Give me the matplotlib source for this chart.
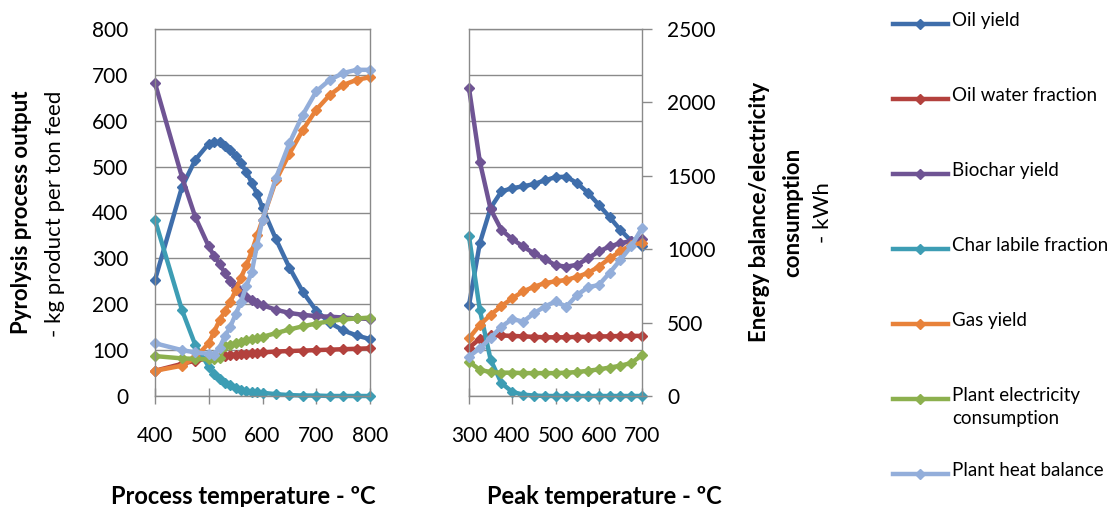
import matplotlib
matplotlib.use("Agg")
import matplotlib.pyplot as plt
from matplotlib.lines import Line2D

plt.rcParams["font.family"] = ["Lato", "DejaVu Sans"]

# --------------------------
# Data
# --------------------------
process_temp = [400, 450, 475, 500, 510, 520, 530, 540, 550, 560, 570,
                580, 590, 600, 625, 650, 675, 700, 725, 750, 775, 800]
oil_yield_p = [253, 455, 515, 550, 554, 553, 546, 536, 524, 508, 488,
               465, 440, 410, 342, 280, 227, 186, 160, 143, 132, 124]
oil_water_p = [55, 70, 77, 82, 84, 86, 88, 89, 90, 91, 92,
               93, 94, 95, 97, 98, 99, 100, 101, 102, 103, 104]
biochar_p = [682, 478, 390, 326, 305, 288, 268, 250, 237, 225, 216,
             209, 203, 198, 188, 181, 177, 174, 173, 171, 169, 168]
char_labile_p = [384, 188, 111, 64, 48, 36, 29, 23, 18, 14, 11,
                 9, 8, 7, 4, 2, 1, 1, 0, 0, 0, 0]
gas_yield_p = [55, 66, 84, 115, 140, 165, 185, 205, 230, 258, 285,
               315, 350, 384, 470, 528, 580, 624, 656, 678, 689, 695]
electricity_p = [87, 82, 81, 80, 81, 83, 110, 112, 115, 118, 121,
                 124, 127, 129, 137, 145, 152, 158, 163, 167, 169, 171]
heat_balance_p = [115, 100, 95, 92, 89, 105, 130, 151, 178, 205, 240,
                  270, 330, 384, 475, 551, 613, 664, 689, 704, 711, 711]

peak_temp = [300, 325, 350, 375, 400, 425, 450, 475, 500, 525, 550,
             575, 600, 625, 650, 675, 700]
oil_yield_k = [198, 333, 410, 446, 453, 457, 462, 470, 477, 478, 464,
               443, 417, 390, 362, 338, 326]
oil_water_k = [105, 125, 132, 132, 131, 130, 129, 128, 128, 128, 129,
               129, 130, 130, 131, 131, 131]
biochar_k = [671, 511, 407, 362, 342, 326, 311, 299, 285, 282, 286,
             300, 315, 326, 333, 338, 342]
char_labile_k = [348, 188, 79, 28, 9, 3, 1, 0, 0, 0, 0,
                 0, 0, 0, 0, 0, 0]
gas_yield_k = [126, 155, 177, 196, 213, 228, 238, 246, 250, 253, 260,
               268, 282, 300, 315, 330, 333]
# energy series in kWh (secondary axis)
electricity_k = [234, 178, 163, 159, 159, 156, 156, 156, 156, 159, 163,
                 172, 181, 194, 206, 225, 278]
heat_balance_k = [269, 325, 397, 472, 525, 506, 563, 609, 644, 609, 688,
                  741, 756, 838, 928, 1019, 1144]

labels = ["Oil yield", "Oil water fraction", "Biochar yield",
          "Char labile fraction", "Gas yield",
          "Plant electricity\nconsumption", "Plant heat balance"]
colors = ["#3F6EAB", "#B3413D", "#6F5494", "#3D9DB4",
          "#E8823A", "#8CB04E", "#93AEDA"]

W, H = 1117, 507
GRID = "#8A8A8A"
TICK_FS = 15
TITLE_FS = 16
LW = 3.2
MS = 5


def fx(px):
    return px / W


def fy(py):
    return 1 - py / H


def style_panel(ax, xlim, xticks):
    ax.set_xlim(*xlim)
    ax.set_ylim(0, 800)
    ax.set_xticks(xticks)
    ax.set_yticks(range(0, 801, 100))
    ax.grid(axis="y", color=GRID, linewidth=1.0)
    ax.set_axisbelow(True)
    for s in ax.spines.values():
        s.set_color(GRID)
        s.set_linewidth(1.0)
    ax.tick_params(axis="x", direction="inout", length=11, width=1,
                   color=GRID, pad=16, labelsize=TICK_FS)
    ax.tick_params(axis="y", length=0, labelsize=TICK_FS)


fig = plt.figure(figsize=(W / 100, H / 100), dpi=100)

# --------------------------
# Left panel: process temperature
# --------------------------
axL = fig.add_axes([fx(155), fy(396), fx(370) - fx(155), fy(29) - fy(396)])
style_panel(axL, (400, 800), [400, 500, 600, 700, 800])
axL.tick_params(axis="y", pad=19)

left_series = [oil_yield_p, oil_water_p, biochar_p, char_labile_p,
               gas_yield_p, electricity_p, heat_balance_p]
for ys, c in zip(left_series, colors):
    axL.plot(process_temp, ys, color=c, lw=LW, marker="D", ms=MS,
             clip_on=False)

# --------------------------
# Right panel: peak temperature
# --------------------------
axR = fig.add_axes([fx(469), fy(396), fx(642) - fx(469), fy(29) - fy(396)])
style_panel(axR, (300, 700), [300, 400, 500, 600, 700])
axR.tick_params(axis="y", labelleft=False)

axR2 = axR.twinx()
axR2.set_ylim(0, 2500)
axR2.set_yticks(range(0, 2501, 500))
axR2.tick_params(axis="y", direction="out", length=7, width=1, color=GRID,
                 pad=11, labelsize=TICK_FS)
for s in axR2.spines.values():
    s.set_visible(False)

mass_series = [oil_yield_k, oil_water_k, biochar_k, char_labile_k, gas_yield_k]
for ys, c in zip(mass_series, colors[:5]):
    axR.plot(peak_temp, ys, color=c, lw=LW, marker="D", ms=MS, clip_on=False)
axR2.plot(peak_temp, electricity_k, color=colors[5], lw=LW, marker="D",
          ms=MS, clip_on=False)
axR2.plot(peak_temp, heat_balance_k, color=colors[6], lw=LW, marker="D",
          ms=MS, clip_on=False)

# --------------------------
# Axis titles
# --------------------------
fig.text(fx(22), fy(212), "Pyrolysis process output", rotation=90,
         ha="center", va="center", fontsize=TITLE_FS, fontweight="bold")
fig.text(fx(55), fy(214), "- kg product per ton feed", rotation=90,
         ha="center", va="center", fontsize=TITLE_FS)
fig.text(fx(760), fy(212), "Energy balance/electricity", rotation=90,
         ha="center", va="center", fontsize=TITLE_FS, fontweight="bold")
fig.text(fx(793), fy(212), "consumption", rotation=90,
         ha="center", va="center", fontsize=TITLE_FS, fontweight="bold")
fig.text(fx(823), fy(213), "- kWh", rotation=90,
         ha="center", va="center", fontsize=TITLE_FS)
fig.text(fx(243), fy(496), "Process temperature - \u00baC",
         ha="center", va="center", fontsize=TITLE_FS + 1, fontweight="bold")
fig.text(fx(604), fy(496), "Peak temperature - \u00baC",
         ha="center", va="center", fontsize=TITLE_FS + 1, fontweight="bold")

# --------------------------
# Legend (Excel style, one row every 75 px)
# --------------------------
row_y = [24, 99, 174, 249, 324, 399, 474]
for lab, c, y in zip(labels, colors, row_y):
    fig.add_artist(Line2D([fx(893), fx(948)], [fy(y), fy(y)], color=c,
                          lw=LW, transform=fig.transFigure))
    fig.add_artist(Line2D([fx(920)], [fy(y)], color=c, marker="D", ms=MS,
                          transform=fig.transFigure))
    fig.text(fx(952), fy(y - 12), lab, ha="left", va="top", fontsize=13.5,
             linespacing=1.45)

fig.savefig("out.png", dpi=100)
